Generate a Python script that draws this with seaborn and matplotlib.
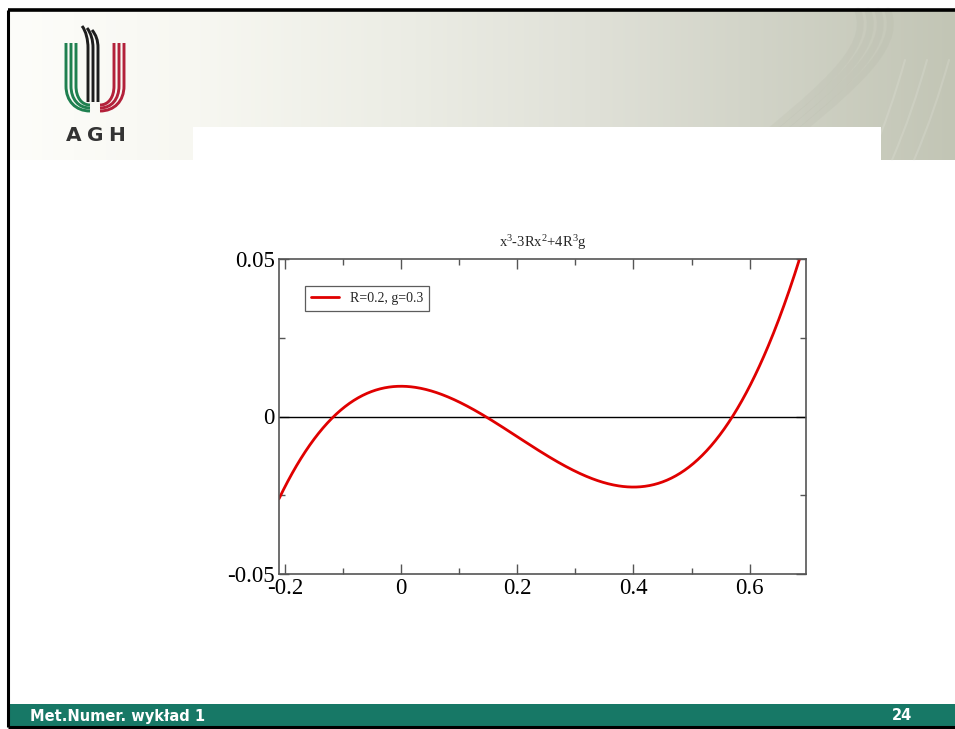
import numpy as np
import pandas as pd
import matplotlib
matplotlib.use("Agg")
import matplotlib.pyplot as plt
from matplotlib.path import Path
from matplotlib.patches import PathPatch, Rectangle
from matplotlib.ticker import MultipleLocator, FixedLocator, FixedFormatter
import seaborn as sns

# ---- chart content ----
title = r"x$^3$-3Rx$^2$+4R$^3$g"
R = 0.2
g = 0.3
series_label = "R=0.2, g=0.3"
x_range = (-0.21, 0.697)
y_range = (-0.05, 0.05)
x_ticks = [-0.2, 0.0, 0.2, 0.4, 0.6]
x_tick_labels = ["-0.2", "0", "0.2", "0.4", "0.6"]
y_ticks = [-0.05, 0.0, 0.05]
y_tick_labels = ["-0.05", "0", "0.05"]
footer_left = "Met.Numer. wykład 1"
footer_right = "24"

sns.set_theme(style="ticks")
plt.rcParams["font.family"] = ["Liberation Serif", "DejaVu Serif"]
plt.rcParams["mathtext.fontset"] = "custom"
plt.rcParams["mathtext.rm"] = "Liberation Serif"
plt.rcParams["mathtext.it"] = "Liberation Serif"

W, H = 955, 729
fig = plt.figure(figsize=(W / 100, H / 100), dpi=100, facecolor="white")

# ---- slide background (pixel coordinates) ----
bg = fig.add_axes([0, 0, 1, 1], zorder=0)
bg.set_xlim(0, W)
bg.set_ylim(H, 0)
bg.axis("off")

# header gradient band
stops_x = [10, 200, 400, 600, 750, 955]
stops_c = np.array([[253, 253, 250], [247, 247, 241], [236, 237, 229],
                    [223, 224, 215], [210, 212, 200], [194, 197, 181]]) / 255.0
gx = np.linspace(10, 955, 600)
grad = np.stack([np.interp(gx, stops_x, stops_c[:, k]) for k in range(3)], axis=-1)
bg.imshow(grad[np.newaxis, :, :], extent=[10, 955, 160, 11], aspect="auto",
          interpolation="bilinear", zorder=1)

# decorative streaks in the header
def bezier(p0, p1, p2, p3, **kw):
    path = Path([p0, p1, p2, p3], [Path.MOVETO, Path.CURVE4, Path.CURVE4, Path.CURVE4])
    bg.add_patch(PathPatch(path, fill=False, capstyle="round", **kw))

for off in [0, 10, 20, 30]:
    bezier((858 + off, 11), (872 + off, 50), (820 + off, 90), (735 + off, 160),
           lw=5, color="#9a9d8c", alpha=0.09, zorder=2)
for off in [0, 22, 44]:
    bezier((905 + off, 60), (895 + off, 95), (885 + off, 125), (870 + off, 160),
           lw=1.5, color="#f0f0ea", alpha=0.18, zorder=2)

# white content panel overlapping the header
bg.add_patch(Rectangle((193, 127), 688, 40, color="white", zorder=3, lw=0))

# logo stripes
def stripe(pts, color):
    codes = [Path.MOVETO, Path.LINETO, Path.CURVE4, Path.CURVE4, Path.CURVE4]
    bg.add_patch(PathPatch(Path(pts, codes), fill=False, lw=2.1, color=color,
                           capstyle="butt", zorder=4))

for i in range(3):
    x0 = 66 + 5 * i
    yb = 111 - 3 * i
    stripe([(x0, 43), (x0, 86), (x0, 86 + (yb - 86) * 0.6),
            (x0 + (90 - x0) * 0.4, yb), (90, yb)], "#1f8050")
    x1 = 124 - 5 * i
    stripe([(x1, 43), (x1, 86), (x1, 86 + (yb - 86) * 0.6),
            (x1 - (x1 - 100) * 0.4, yb), (100, yb)], "#b3213a")
for i in range(3):
    xb = 88 + 5 * i
    yt = 26 + 2 * i
    stripe([(xb, 102), (xb, 48), (xb, 40), (xb - 2, yt + 5), (xb - 6, yt)], "#1e1e1e")
for ch, cx in zip("AGH", [74, 95, 117]):
    bg.text(cx, 135, ch, ha="center", va="center", fontsize=14.5, fontweight="bold",
            family="DejaVu Sans", color="#333333", zorder=4)

# footer band
bg.add_patch(Rectangle((8, 704), W - 8, 22, color="#177866", lw=0, zorder=2))
bg.text(30, 716, footer_left, ha="left", va="center", fontsize=10.5,
        fontweight="bold", family="DejaVu Sans", color="white", zorder=3)
bg.text(912, 716, footer_right, ha="right", va="center", fontsize=10.5,
        fontweight="bold", family="DejaVu Sans", color="white", zorder=3)

# slide border
bg.plot([8, 8], [10, 727], color="black", lw=2.2, zorder=5, solid_capstyle="butt")
bg.plot([8, W], [10, 10], color="black", lw=2.6, zorder=5, solid_capstyle="butt")
bg.plot([8, W], [727, 727], color="black", lw=2.2, zorder=5, solid_capstyle="butt")

# ---- function plot ----
ax = fig.add_axes([279 / W, (H - 574) / H, (806 - 279) / W, (574 - 259) / H], zorder=2)
ax.set_facecolor("white")

x = np.linspace(x_range[0], x_range[1], 600)
df = pd.DataFrame({"x": x, "y": x ** 3 - 3 * R * x ** 2 + 4 * R ** 3 * g})
ax.axhline(0, color="black", lw=1.0, zorder=1)
sns.lineplot(data=df, x="x", y="y", ax=ax, color="#e00000", lw=2.0,
             label=series_label, zorder=2, sort=False)

ax.set_xlim(*x_range)
ax.set_ylim(*y_range)
ax.set_xlabel("")
ax.set_ylabel("")
ax.xaxis.set_major_locator(FixedLocator(x_ticks))
ax.xaxis.set_major_formatter(FixedFormatter(x_tick_labels))
ax.xaxis.set_minor_locator(MultipleLocator(0.1))
ax.yaxis.set_major_locator(FixedLocator(y_ticks))
ax.yaxis.set_major_formatter(FixedFormatter(y_tick_labels))
ax.yaxis.set_minor_locator(MultipleLocator(0.025))

for sp in ax.spines.values():
    sp.set_color("#555555")
    sp.set_linewidth(1.2)
ax.tick_params(which="both", direction="in", top=True, right=True,
               color="#555555", width=1.0, labelsize=16.5, labelcolor="black")
ax.tick_params(which="major", length=7.5, pad=3)
ax.tick_params(which="minor", length=4)
for lab in ax.get_xticklabels() + ax.get_yticklabels():
    lab.set_family("Liberation Serif")

ax.set_title(title, fontsize=10.5, pad=9, family="Liberation Serif")

leg = ax.legend(loc="upper left", bbox_to_anchor=(0.049, 0.915), frameon=True,
                fancybox=False, fontsize=10, handlelength=2.0, borderpad=0.45,
                handletextpad=0.8, borderaxespad=0)
leg.get_frame().set_edgecolor("#333333")
leg.get_frame().set_linewidth(0.9)
for t in leg.get_texts():
    t.set_family("Liberation Serif")

fig.savefig("out.png", dpi=100, facecolor="white")
